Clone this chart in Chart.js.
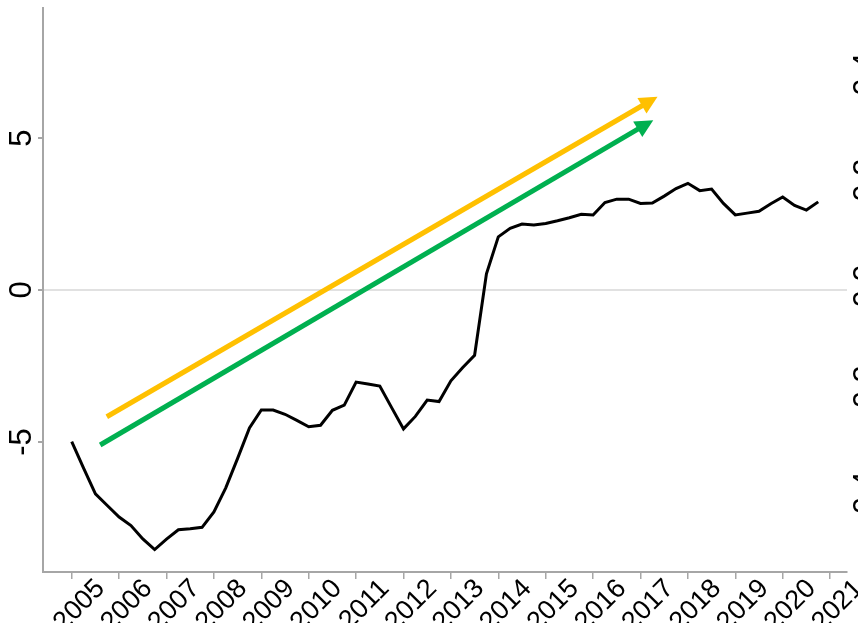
<!DOCTYPE html>
<html>
<head>
<meta charset="utf-8">
<script src="https://cdn.jsdelivr.net/npm/chart.js@4.4.1/dist/chart.umd.min.js"></script>
<style>
  html, body { margin: 0; padding: 0; background: #fff; overflow: hidden; }
  #wrap { width: 900px; height: 623px; }
</style>
</head>
<body>
<div id="wrap"><canvas id="chart" width="900" height="623"></canvas></div>
<script>
// quarterly values, 2005Q1 .. 2020Q4
const firstYear = 2005;
const seriesValues = [
  -4.99, -5.86, -6.71, -7.09, -7.47, -7.75, -8.19, -8.54, -8.20, -7.89,
  -7.86, -7.81, -7.30, -6.51, -5.54, -4.54, -3.95, -3.95, -4.09, -4.29,
  -4.50, -4.45, -3.96, -3.79, -3.03, -3.09, -3.16, -3.87, -4.57, -4.16,
  -3.62, -3.67, -2.99, -2.55, -2.15, 0.53, 1.75, 2.03, 2.17, 2.14,
  2.19, 2.28, 2.38, 2.49, 2.47, 2.88, 2.99, 2.99, 2.85, 2.86,
  3.09, 3.34, 3.51, 3.27, 3.32, 2.85, 2.47, 2.53, 2.59, 2.84,
  3.06, 2.78, 2.63, 2.90
];
const yearTicks = [2005, 2006, 2007, 2008, 2009, 2010, 2011, 2012, 2013,
                   2014, 2015, 2016, 2017, 2018, 2019, 2020, 2021];
const leftTicks = [-5, 0, 5];
const rightTicks = [-0.4, -0.2, 0, 0.2, 0.4];

// trend arrows (start, end) in data units
const yellowArrowX = [2005.74, 2017.25];
const yellowArrowY = [-4.17, 6.26];
const greenArrowX = [2005.60, 2017.16];
const greenArrowY = [-5.10, 5.49];

const toPoints = (xs, ys) => xs.map((x, i) => ({ x: x, y: ys[i] }));
const linePoints = seriesValues.map((v, i) => ({ x: firstYear + i / 4, y: v }));

const FONT = 'Liberation Sans, Arial, sans-serif';
const AXIS_GREY = '#a6a6a6';

// draws a filled head on the end of datasets flagged with arrowHead
const arrowHeads = {
  id: 'arrowHeads',
  afterDatasetsDraw(chart) {
    const ctx = chart.ctx;
    chart.data.datasets.forEach((ds, i) => {
      if (!ds.arrowHead) return;
      const pts = chart.getDatasetMeta(i).data;
      const a = pts[pts.length - 2], b = pts[pts.length - 1];
      const dx = b.x - a.x, dy = b.y - a.y;
      const len = Math.hypot(dx, dy);
      const ux = dx / len, uy = dy / len;
      const tipX = b.x + ux * 6, tipY = b.y + uy * 6;
      const baseX = tipX - ux * 18, baseY = tipY - uy * 18;
      const hw = 9;
      ctx.save();
      ctx.fillStyle = ds.borderColor;
      ctx.beginPath();
      ctx.moveTo(tipX, tipY);
      ctx.lineTo(baseX - uy * hw, baseY + ux * hw);
      ctx.lineTo(baseX + uy * hw, baseY - ux * hw);
      ctx.closePath();
      ctx.fill();
      ctx.restore();
    });
  }
};

new Chart(document.getElementById('chart'), {
  type: 'line',
  data: {
    datasets: [
      {
        data: linePoints,
        borderColor: '#000000',
        borderWidth: 3,
        pointRadius: 0,
        tension: 0,
        yAxisID: 'y'
      },
      {
        data: toPoints(yellowArrowX, yellowArrowY),
        borderColor: '#FFC000',
        borderWidth: 5,
        pointRadius: 0,
        arrowHead: true,
        yAxisID: 'y'
      },
      {
        data: toPoints(greenArrowX, greenArrowY),
        borderColor: '#00B050',
        borderWidth: 5,
        pointRadius: 0,
        arrowHead: true,
        yAxisID: 'y'
      }
    ]
  },
  options: {
    responsive: false,
    animation: false,
    devicePixelRatio: 1,
    layout: { padding: { top: 8, left: 0, right: 0, bottom: 0 } },
    plugins: { legend: { display: false }, tooltip: { enabled: false } },
    scales: {
      x: {
        type: 'linear',
        min: 2004.394,
        max: 2021.357,
        afterBuildTicks: s => { s.ticks = yearTicks.map(v => ({ value: v })); },
        afterFit: s => { s.height = 51; s.paddingLeft = 0; s.paddingRight = 0; },
        border: { display: true, color: AXIS_GREY, width: 2 },
        grid: { color: 'rgba(0,0,0,0)', tickColor: AXIS_GREY, tickLength: 7, lineWidth: 1.5 },
        ticks: {
          autoSkip: false,
          minRotation: 45,
          maxRotation: 45,
          labelOffset: 29,
          padding: -6,
          color: '#000',
          font: { family: FONT, size: 27 },
          callback: v => String(v)
        }
      },
      y: {
        position: 'left',
        min: -9.28,
        max: 9.28,
        afterBuildTicks: s => { s.ticks = leftTicks.map(v => ({ value: v })); },
        afterFit: s => { s.width = 43; s.paddingTop = 0; s.paddingBottom = 0; },
        border: { display: true, color: AXIS_GREY, width: 2 },
        grid: {
          color: c => (c.tick && c.tick.value === 0 ? '#e1e1e1' : 'rgba(0,0,0,0)'),
          tickColor: AXIS_GREY,
          tickLength: 5,
          lineWidth: 2
        },
        ticks: {
          minRotation: 90,
          maxRotation: 90,
          crossAlign: 'center',
          padding: 2,
          color: '#000',
          font: { family: FONT, size: 31 }
        }
      },
      y1: {
        position: 'right',
        min: -0.54,
        max: 0.525,
        afterBuildTicks: s => { s.ticks = rightTicks.map(v => ({ value: v })); },
        afterFit: s => { s.width = 53; s.paddingTop = 0; s.paddingBottom = 0; },
        border: { display: false },
        grid: { display: false, drawTicks: false },
        ticks: {
          minRotation: 90,
          maxRotation: 90,
          crossAlign: 'center',
          padding: -7,
          color: '#000',
          font: { family: FONT, size: 31 },
          callback: v => v.toFixed(1)
        }
      }
    }
  },
  plugins: [arrowHeads]
});
</script>
</body>
</html>
